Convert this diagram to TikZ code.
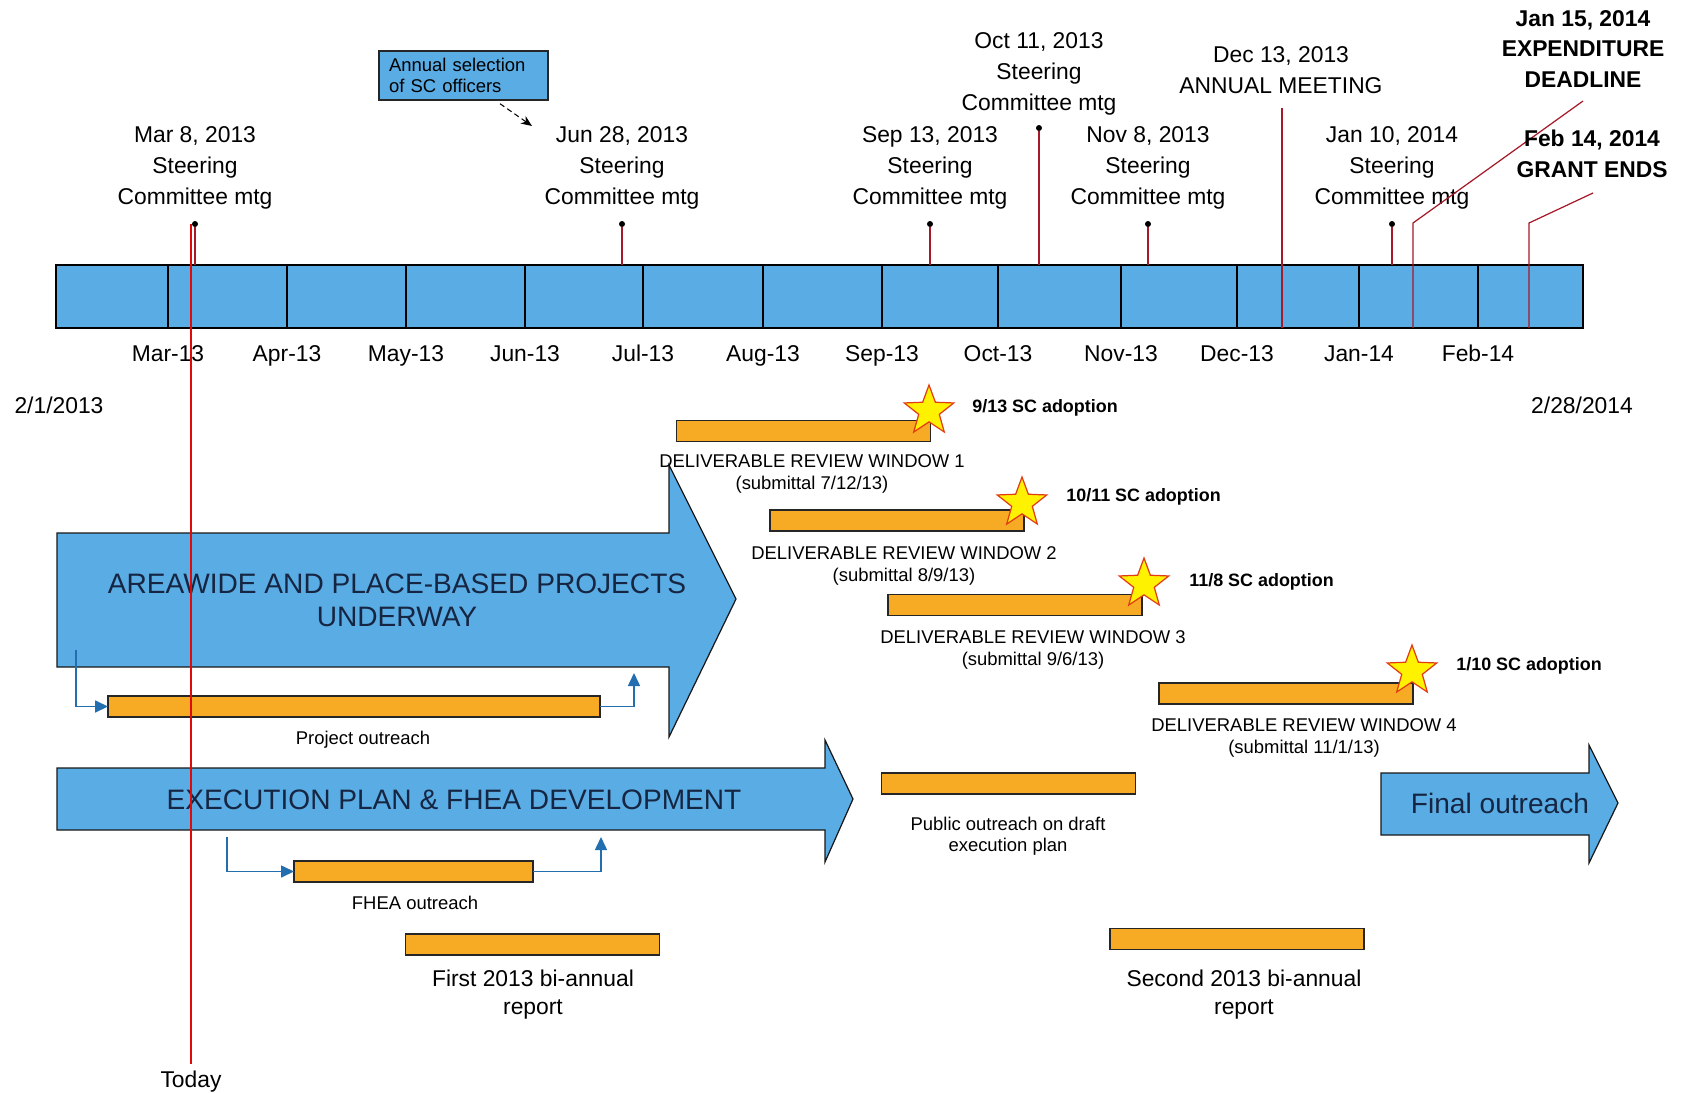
\documentclass[tikz,border=0pt]{standalone}
\usepackage{fontspec}
\setmainfont{Liberation Sans}
\usetikzlibrary{shapes.geometric,arrows.meta}

\definecolor{tlblue}{RGB}{90,172,228}
\definecolor{barorange}{RGB}{247,170,36}
\definecolor{pinred}{RGB}{165,25,40}
\definecolor{todayred}{RGB}{225,10,10}
\definecolor{linkblue}{RGB}{35,110,175}
\definecolor{arrowtext}{RGB}{22,38,66}
\definecolor{staryellow}{RGB}{255,242,0}
\definecolor{staredge}{RGB}{225,60,20}

\begin{document}
\begin{tikzpicture}[x=0.02cm,y=-0.02cm,
  msnote/.style={align=center,inner sep=0pt,font=\fontsize{13}{17.6}\selectfont},
  msbold/.style={msnote,font=\fontsize{13}{17.6}\selectfont\bfseries},
  monthlbl/.style={inner sep=0pt,text height=9.4pt,text depth=2.7pt,font=\fontsize{13}{15}\selectfont},
  smalllbl/.style={align=center,inner sep=0pt,font=\fontsize{10.5}{12.2}\selectfont},
  adoptlbl/.style={anchor=west,inner sep=0pt,font=\fontsize{10.2}{12}\selectfont\bfseries},
  reportlbl/.style={align=center,inner sep=0pt,font=\fontsize{13}{15.9}\selectfont},
  bigtext/.style={align=center,inner sep=0pt,text=arrowtext,font=\fontsize{16}{18.7}\selectfont},
  bigarrow/.style={draw=black!90,line width=0.7pt,fill=tlblue},
  orangebar/.style={draw=black!85,line width=0.9pt,fill=barorange,minimum width=5.08cm,minimum height=0.42cm,inner sep=0pt,outer sep=0pt},
  pindot/.style={circle,fill=black,inner sep=0pt,minimum size=0.12cm},
  pinline/.style={draw=pinred,line width=0.7pt},
  todayline/.style={draw=todayred,line width=1pt},
  linkarrow/.style={draw=linkblue,line width=0.9pt,-{Triangle[length=2.6mm,width=2.4mm]}},
  selbox/.style={draw=black!85,line width=0.8pt,fill=tlblue,text width=2.98cm,inner xsep=0.2cm,minimum height=0.98cm,align=left,font=\fontsize{10.5}{12.2}\selectfont},
  selarrow/.style={densely dashed,line width=0.6pt,-{Stealth[length=2.2mm,width=1.8mm]}},
  adoptstar/.style={star,star points=5,star point ratio=2.4,minimum size=1.04cm,inner sep=0pt,draw=staredge,fill=staryellow,line width=0.7pt}]
\useasboundingbox (0,0) rectangle (1687,1092);

% timeline
\node[draw,fill=tlblue,line width=0.8pt,minimum width=30.54cm,minimum height=1.26cm,inner sep=0pt,outer sep=0pt] (tl) at (819.5,296.5) {};
\foreach \x/\m [count=\i] in {168/Mar-13,287/Apr-13,406/May-13,525/Jun-13,643/Jul-13,763/Aug-13,882/Sep-13,998/Oct-13,1121/Nov-13,1237/Dec-13,1359/Jan-14,1478/Feb-14}{
  \draw[line width=0.8pt] (\x,265) -- (\x,328);
  \node[monthlbl] (mon\i) at (\x,356) {\m};
}
\node[monthlbl] (start) at (59,408) {2/1/2013};
\node[monthlbl] (finish) at (1582,408) {2/28/2014};

% steering committee meetings
\foreach \n/\x/\d in {mar8/195/{Mar 8, 2013},jun28/622/{Jun 28, 2013},sep13/930/{Sep 13, 2013},nov8/1148/{Nov 8, 2013},jan10/1392/{Jan 10, 2014}}{
  \node[pindot] (\n) at (\x,224) {};
  \node[msnote] (\n-txt) at (\x,168) {\d\\Steering\\Committee mtg};
  \draw[pinline] (\n) -- (\n |- tl.north);
}
\node[pindot] (oct11) at (1039,128) {};
\node[msnote] (oct11-txt) at (1039,74) {Oct 11, 2013\\Steering\\Committee mtg};
\draw[pinline] (oct11) -- (oct11 |- tl.north);

\node[msnote] (dec13-txt) at (1281,70) {Dec 13, 2013\\ANNUAL MEETING};
\coordinate (dec13) at (1282,108);
\draw[pinline] (dec13) -- (dec13 |- tl.south);

\node[msbold] (jan15-txt) at (1583,49) {Jan 15, 2014\\EXPENDITURE\\DEADLINE};
\coordinate (jan15a) at (1583,101);
\coordinate (jan15b) at (1413,223);
\draw[pinline] (jan15a) -- (jan15b) -- (jan15b |- tl.south);

\node[msbold] (feb14-txt) at (1592,154) {Feb 14, 2014\\GRANT ENDS};
\coordinate (feb14a) at (1593,193);
\coordinate (feb14b) at (1529,223);
\draw[pinline] (feb14a) -- (feb14b) -- (feb14b |- tl.south);

\node[selbox] (sel) at (463.5,75.5) {Annual selection\\of SC officers};
\coordinate (selend) at (532,126);
\draw[selarrow] ([xshift=0.73cm,yshift=-0.06cm]sel.south) -- (selend);

% big arrows
\draw[bigarrow] (57,533) -- (669,533) -- (669,465) -- (736,599) -- (669,737) -- (669,667) -- (57,667) -- cycle;
\node[bigtext] (areawide) at (397,600) {AREAWIDE AND PLACE-BASED PROJECTS\\UNDERWAY};
\draw[bigarrow] (57,768) -- (825,768) -- (825,740) -- (853,799) -- (825,862) -- (825,830) -- (57,830) -- cycle;
\node[bigtext] (execplan) at (454,800) {EXECUTION PLAN \& FHEA DEVELOPMENT};
\draw[bigarrow] (1381,773) -- (1589,773) -- (1589,745) -- (1618,803) -- (1589,863) -- (1589,835) -- (1381,835) -- cycle;
\node[bigtext] (finalout) at (1500,803) {Final outreach};

% outreach bars
\node[orangebar,minimum width=9.84cm] (po) at (354,706.5) {};
\node[smalllbl] (po-txt) at (363,740) {Project outreach};
\coordinate (po-in) at (76,650);
\coordinate (po-out) at (634,673);
\draw[linkarrow] (po-in) |- (po.west);
\draw[linkarrow] (po.east) -| (po-out);

\node[orangebar,minimum width=4.78cm] (fhea) at (413.5,871.5) {};
\node[smalllbl] (fhea-txt) at (415,903) {FHEA outreach};
\coordinate (fh-in) at (227,837);
\coordinate (fh-out) at (601,837);
\draw[linkarrow] (fh-in) |- (fhea.west);
\draw[linkarrow] (fhea.east) -| (fh-out);

\node[orangebar] (pub) at (1008.5,783.5) {};
\node[smalllbl] (pub-txt) at (1008,836) {Public outreach on draft\\execution plan};

\node[orangebar] (rep1) at (532.5,944.5) {};
\node[reportlbl] (rep1-txt) at (533,995) {First 2013 bi-annual\\report};
\node[orangebar] (rep2) at (1237,939) {};
\node[reportlbl] (rep2-txt) at (1244,995) {Second 2013 bi-annual\\report};

% review windows
\node[orangebar] (drw1) at (803.5,431) {};
\node[smalllbl] (drw1-txt) at (812,474) {DELIVERABLE REVIEW WINDOW 1\\(submittal 7/12/13)};
\node[adoptstar] (s1) at (929,411) {};
\node[adoptlbl] (s1-txt) at (972,408) {9/13 SC adoption};

\node[orangebar] (drw2) at (897,520.5) {};
\node[smalllbl] (drw2-txt) at (904,566) {DELIVERABLE REVIEW WINDOW 2\\(submittal 8/9/13)};
\node[adoptstar] (s2) at (1022,503) {};
\node[adoptlbl] (s2-txt) at (1066,497) {10/11 SC adoption};

\node[orangebar] (drw3) at (1015,605) {};
\node[smalllbl] (drw3-txt) at (1033,650) {DELIVERABLE REVIEW WINDOW 3\\(submittal 9/6/13)};
\node[adoptstar] (s3) at (1144,584) {};
\node[adoptlbl] (s3-txt) at (1189,582) {11/8 SC adoption};

\node[orangebar] (drw4) at (1286,693.5) {};
\node[smalllbl] (drw4-txt) at (1304,738) {DELIVERABLE REVIEW WINDOW 4\\(submittal 11/1/13)};
\node[adoptstar] (s4) at (1412,671) {};
\node[adoptlbl] (s4-txt) at (1456,666) {1/10 SC adoption};

% today
\node[monthlbl,anchor=north,inner sep=4pt] (today) at (191,1064) {Today};
\draw[todayline] (today.north |- mar8) -- (today.north);
\end{tikzpicture}
\end{document}
